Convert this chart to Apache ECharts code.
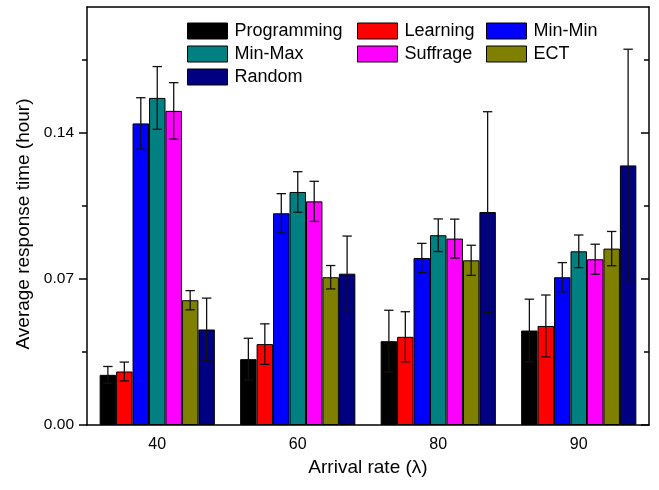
<!DOCTYPE html>
<html>
<head>
<meta charset="utf-8">
<script src="https://cdn.jsdelivr.net/npm/echarts@6/dist/echarts.min.js"></script>
<style>
  html, body { margin: 0; padding: 0; background: #fff; }
  #chart { width: 659px; height: 490px; }
</style>
</head>
<body>
<div id="chart"></div>
<script>
// Arrival rates on the x axis
const categories = ['40', '60', '80', '90'];

// Mean response time (hour) per scheduler, with its error half-width
const programming    = [0.0240, 0.0315, 0.0401, 0.0452];
const programmingErr = [0.0040, 0.0100, 0.0148, 0.0150];
const learning       = [0.0256, 0.0387, 0.0422, 0.0474];
const learningErr    = [0.0045, 0.0097, 0.0120, 0.0148];
const minMin         = [0.1443, 0.1013, 0.0799, 0.0707];
const minMinErr      = [0.0123, 0.0094, 0.0070, 0.0070];
const minMax         = [0.1565, 0.1115, 0.0908, 0.0831];
const minMaxErr      = [0.0150, 0.0097, 0.0078, 0.0078];
const suffrage       = [0.1503, 0.1070, 0.0892, 0.0793];
const suffrageErr    = [0.0135, 0.0096, 0.0093, 0.0072];
const ect            = [0.0597, 0.0707, 0.0788, 0.0844];
const ectErr         = [0.0046, 0.0056, 0.0072, 0.0082];
const random         = [0.0457, 0.0724, 0.1019, 0.1242];
const randomErr      = [0.0150, 0.0180, 0.0480, 0.0556];

const seriesNames = ['Programming', 'Learning', 'Min-Min', 'Min-Max', 'Suffrage', 'ECT', 'Random'];
const seriesMeans = [programming, learning, minMin, minMax, suffrage, ect, random];
const seriesErrs  = [programmingErr, learningErr, minMinErr, minMaxErr, suffrageErr, ectErr, randomErr];

// y-axis tick values
const yMajorTicks = [0, 0.07, 0.14];
const yMinorTicks = [0.035, 0.105, 0.175];
const yMax = 0.2;

const palette = ['#000000', '#ff0000', '#0000ff', '#008080', '#ff00ff', '#808000', '#000080'];
const FONT = 'Arial, "Liberation Sans", sans-serif';
const CAT_GAP = 0.18;

const chart = echarts.init(document.getElementById('chart'), null, { renderer: 'canvas' });

const barSeries = seriesNames.map((name, k) => ({
  name,
  type: 'bar',
  xAxisIndex: 0,
  yAxisIndex: 0,
  data: seriesMeans[k],
  barGap: '0%',
  barCategoryGap: (CAT_GAP * 100) + '%',
  itemStyle: { color: palette[k], borderColor: '#000', borderWidth: 1 },
  emphasis: { disabled: true },
  z: 2
}));

// error bars: [category index, series index, mean, half-width]
const errData = [];
seriesNames.forEach((_, k) => {
  categories.forEach((_, i) => errData.push([i, k, seriesMeans[k][i], seriesErrs[k][i]]));
});

const errSeries = {
  name: 'errorbars',
  type: 'custom',
  xAxisIndex: 0,
  yAxisIndex: 0,
  data: errData,
  z: 5,
  silent: true,
  encode: { x: 0, y: 2 },
  renderItem(params, api) {
    const i = api.value(0), k = api.value(1), m = api.value(2), e = api.value(3);
    const band = api.size([1, 0])[0];
    const bw = band * (1 - CAT_GAP) / seriesNames.length;
    const c = api.coord([i, m]);
    const x = c[0] - band * (1 - CAT_GAP) / 2 + (k + 0.5) * bw;
    const yt = api.coord([i, m + e])[1];
    const yb = api.coord([i, m - e])[1];
    const cap = 4.7;
    const style = { stroke: '#111', lineWidth: 1.3 };
    return {
      type: 'group',
      children: [
        { type: 'line', shape: { x1: x, y1: yt, x2: x, y2: yb }, style },
        { type: 'line', shape: { x1: x - cap, y1: yt, x2: x + cap, y2: yt }, style },
        { type: 'line', shape: { x1: x - cap, y1: yb, x2: x + cap, y2: yb }, style }
      ]
    };
  }
};

const lineStyle = { color: '#000', width: 1.5 };
const frameLine = { show: true, onZero: false, lineStyle };
const noLine = { show: false, onZero: false };
const legendCommon = {
  orient: 'vertical',
  top: 22,
  padding: 0,
  itemWidth: 40,
  itemHeight: 16,
  itemGap: 5,
  selectedMode: false,
  icon: 'rect',
  itemStyle: { borderColor: '#000', borderWidth: 1 },
  textStyle: { fontFamily: FONT, fontSize: 18, color: '#000', padding: [0, 0, 0, 2] }
};

const option = {
  animation: false,
  backgroundColor: '#fff',
  grid: { left: 87, right: 10, top: 7, bottom: 65 },
  legend: [
    Object.assign({}, legendCommon, { left: 187, data: ['Programming', 'Min-Max', 'Random'] }),
    Object.assign({}, legendCommon, { left: 357, data: ['Learning', 'Suffrage'] }),
    Object.assign({}, legendCommon, { left: 486, data: ['Min-Min', 'ECT'] })
  ],
  xAxis: [
    {
      type: 'category', position: 'bottom', data: categories,
      axisLine: frameLine,
      axisTick: { alignWithLabel: true, length: 8, lineStyle },
      axisLabel: { fontFamily: FONT, fontSize: 16, color: '#000', margin: 12 },
      splitLine: { show: false },
      name: 'Arrival rate (\u03bb)', nameLocation: 'middle', nameGap: 32,
      nameTextStyle: { fontFamily: FONT, fontSize: 19, color: '#000' }
    },
    {
      type: 'category', position: 'bottom', data: categories,
      axisLine: noLine,
      axisTick: { length: 5, lineStyle },
      axisLabel: { show: false },
      splitLine: { show: false }
    },
    {
      type: 'category', position: 'top', data: categories,
      axisLine: frameLine,
      axisTick: { alignWithLabel: true, inside: true, length: 8, lineStyle },
      axisLabel: { show: false },
      splitLine: { show: false }
    },
    {
      type: 'category', position: 'top', data: categories,
      axisLine: noLine,
      axisTick: { inside: true, length: 5, lineStyle },
      axisLabel: { show: false },
      splitLine: { show: false }
    }
  ],
  yAxis: [
    {
      type: 'value', position: 'left', min: 0, max: yMax,
      axisLine: frameLine,
      axisTick: { show: true, length: 8, lineStyle, customValues: yMajorTicks },
      axisLabel: {
        fontFamily: FONT, fontSize: 15.5, color: '#000', margin: 13,
        customValues: yMajorTicks,
        formatter: v => v.toFixed(2)
      },
      splitLine: { show: false },
      name: 'Average response time (hour)', nameLocation: 'middle', nameGap: 50,
      nameTextStyle: { fontFamily: FONT, fontSize: 19, color: '#000', padding: [0, 16, 0, 0] }
    },
    {
      type: 'value', position: 'left', min: 0, max: yMax,
      axisLine: noLine,
      axisTick: { show: true, length: 5, lineStyle, customValues: yMinorTicks },
      axisLabel: { show: false },
      splitLine: { show: false }
    },
    {
      type: 'value', position: 'right', min: 0, max: yMax,
      axisLine: frameLine,
      axisTick: { show: true, inside: true, length: 8, lineStyle, customValues: yMajorTicks },
      axisLabel: { show: false },
      splitLine: { show: false }
    },
    {
      type: 'value', position: 'right', min: 0, max: yMax,
      axisLine: noLine,
      axisTick: { show: true, inside: true, length: 5, lineStyle, customValues: yMinorTicks },
      axisLabel: { show: false },
      splitLine: { show: false }
    }
  ],
  series: barSeries.concat([errSeries])
};

chart.setOption(option);
</script>
</body>
</html>
